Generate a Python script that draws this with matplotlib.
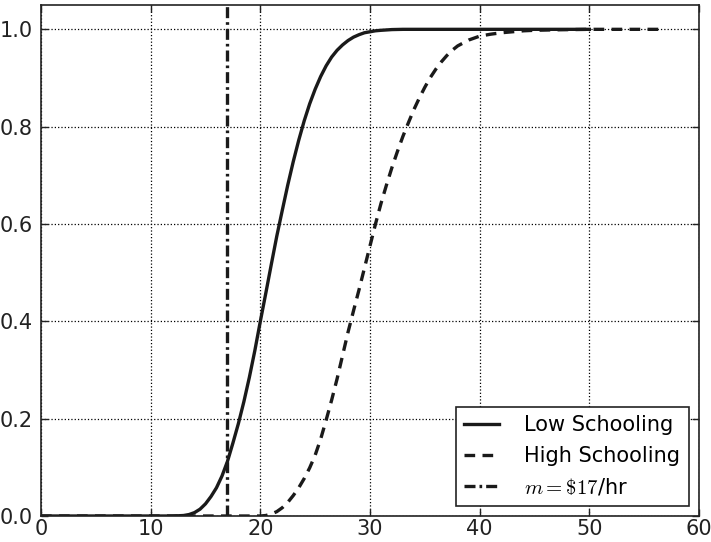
import numpy as np
import matplotlib
matplotlib.use('Agg')
import matplotlib.pyplot as plt

plt.rcParams['mathtext.fontset'] = 'cm'
plt.rcParams['font.size'] = 15

# wage values ($/hr) and cumulative share
low_x = [0, 5, 10, 12, 13, 13.5, 14, 14.5, 15, 15.5, 16, 16.5, 17, 17.5, 18, 18.5, 19, 19.5,
         20, 20.5, 21, 21.5, 22, 22.5, 23, 23.5, 24, 24.5, 25, 25.5, 26, 26.5, 27, 27.5, 28,
         28.5, 29, 29.5, 30, 30.5, 31, 32, 33, 40, 50]
low_y = [0, 0, 0, 0, 0.001, 0.003, 0.007, 0.014, 0.025, 0.04, 0.058, 0.082, 0.112, 0.15, 0.19,
         0.235, 0.285, 0.34, 0.40, 0.458, 0.517, 0.575, 0.628, 0.68, 0.728, 0.772, 0.812, 0.847,
         0.877, 0.903, 0.925, 0.943, 0.957, 0.968, 0.977, 0.984, 0.989, 0.993, 0.995, 0.997,
         0.998, 0.9995, 1.0, 1.0, 1.0]

high_x = [0, 10, 20, 20.5, 21, 21.5, 22, 22.5, 23, 23.5, 24, 24.5, 25, 25.5, 26, 26.5, 27,
          27.5, 28, 28.5, 29, 29.5, 30, 30.5, 31, 31.5, 32, 32.5, 33, 33.5, 34, 34.5, 35, 35.5,
          36, 36.5, 37, 37.5, 38, 39, 40, 41, 42, 43, 44, 45, 47, 50, 56.4]
high_y = [0, 0, 0, 0.001, 0.004, 0.009, 0.017, 0.028, 0.042, 0.058, 0.077, 0.099, 0.125, 0.158,
          0.197, 0.238, 0.282, 0.33, 0.378, 0.422, 0.465, 0.51, 0.555, 0.60, 0.642, 0.68, 0.716,
          0.749, 0.78, 0.808, 0.835, 0.859, 0.881, 0.901, 0.918, 0.933, 0.946, 0.957, 0.966,
          0.978, 0.986, 0.99, 0.993, 0.995, 0.997, 0.998, 0.999, 1.0, 1.0]

min_wage = 17

fig = plt.figure(figsize=(7.11, 5.42), dpi=100)
ax = fig.add_axes([41/711, 1-516/542, 658/711, 511/542])

ax.plot(low_x, low_y, color='#1a1a1a', lw=2.4, ls='-', label='Low Schooling')
ax.plot(high_x, high_y, color='#1a1a1a', lw=2.4, ls=(0, (3.2, 2.2)), label='High Schooling')
ax.axvline(min_wage, color='#1a1a1a', lw=2.4, ls=(0, (3.3, 1.2, 0.8, 1.2)), label=r'$m=\$17$/hr')

ax.set_xlim(0, 60)
ax.set_ylim(0, 1.05)
ax.set_xticks([0, 10, 20, 30, 40, 50, 60])
ax.set_yticks([0.0, 0.2, 0.4, 0.6, 0.8, 1.0])
ax.grid(True, color='black', ls=':', lw=0.9)
ax.tick_params(direction='in', top=True, right=True, length=5, width=1, colors='#222222')
ax.tick_params(axis='x', pad=2)
ax.tick_params(axis='y', pad=6)
for s in ax.spines.values():
    s.set_linewidth(1.2)
    s.set_color('#222222')

leg = ax.legend(loc='lower right', fancybox=False, framealpha=1, edgecolor='#222222',
                handlelength=1.7, handletextpad=1.2, borderaxespad=0.5)
leg.get_frame().set_linewidth(1.2)

fig.savefig('out.png', dpi=100)
